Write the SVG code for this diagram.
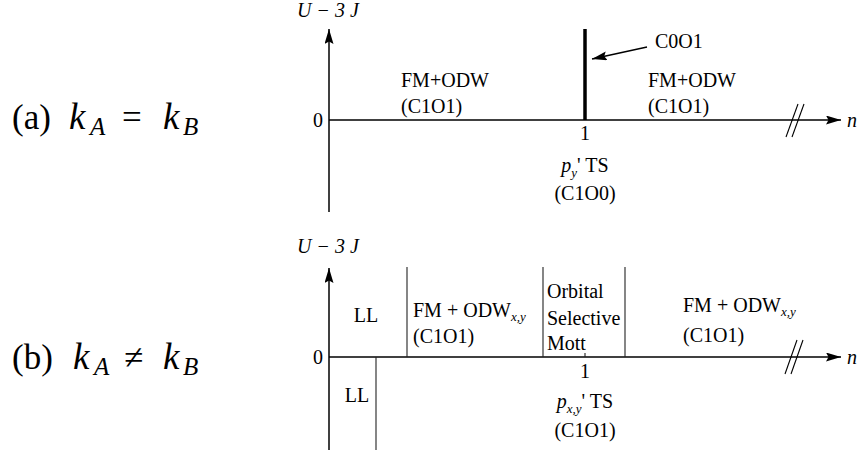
<svg xmlns="http://www.w3.org/2000/svg" width="863" height="455" viewBox="0 0 863 455">
<style>
.t,.m,.sub,.big,.bigi,.bsub{font-family:'Liberation Serif',serif;fill:#000}
.t{font-size:20px}
.m{font-size:20px;font-style:italic}
.sub{font-size:13px;font-style:italic}
.big{font-size:35px}
.bigi{font-size:37px;font-style:italic}
.bsub{font-size:25px;font-style:italic}
.ax{stroke:#000;stroke-width:1.5;fill:none}
.ph{stroke:#222;stroke-width:1.1;fill:none}
.br{stroke:#000;stroke-width:1.1;fill:none}
</style>
<defs>
<marker id="ah" markerUnits="userSpaceOnUse" markerWidth="16" markerHeight="10" refX="15" refY="4.5" orient="auto">
<path d="M0,0 L15,4.5 L0,9 L2.5,4.5 z" fill="#000"/>
</marker>
</defs>
<rect width="863" height="455" fill="#fff"/>

<g id="labels-left">
<text class="big" x="12" y="129">(a)</text>
<text class="bigi" x="69" y="129">k</text>
<text class="bsub" x="90" y="135">A</text>
<text class="big" x="122" y="129">=</text>
<text class="bigi" x="163" y="129">k</text>
<text class="bsub" x="183" y="135">B</text>
<text class="big" x="12" y="369">(b)</text>
<text class="bigi" x="73" y="369">k</text>
<text class="bsub" x="94" y="375">A</text>
<text class="big" x="124" y="369">≠</text>
<text class="bigi" x="163" y="369">k</text>
<text class="bsub" x="183" y="375">B</text>
</g>

<g id="connectors">
<line class="ax" x1="329" y1="212" x2="329" y2="29" marker-end="url(#ah)"/>
<line class="ax" x1="329" y1="120" x2="841" y2="120" marker-end="url(#ah)"/>
<line x1="585" y1="29" x2="585" y2="120" stroke="#000" stroke-width="3.5"/>
<line x1="647" y1="47" x2="592" y2="59" stroke="#000" stroke-width="1.3" marker-end="url(#ah)"/>
<line class="br" x1="798" y1="104" x2="786" y2="137"/>
<line class="br" x1="804" y1="104" x2="792" y2="137"/>
<line class="ax" x1="329" y1="450" x2="329" y2="268" stroke-width="1.3" marker-end="url(#ah)"/>
<line class="ax" x1="329" y1="357" x2="841" y2="357" stroke-width="1.3" marker-end="url(#ah)"/>
<line class="ph" x1="407" y1="267" x2="407" y2="357"/>
<line class="ph" x1="376" y1="357" x2="376" y2="450"/>
<line class="ph" x1="543" y1="267" x2="543" y2="357"/>
<line class="ph" x1="625" y1="267" x2="625" y2="357"/>
<line class="ph" x1="585" y1="353" x2="585" y2="357"/>
<line class="br" x1="797" y1="340" x2="785" y2="374"/>
<line class="br" x1="803" y1="340" x2="791" y2="374"/>
</g>

<g id="axis-a">
<text class="m" x="297" y="17">U − 3 J</text>
<text class="t" x="313" y="127">0</text>
<text class="m" x="847" y="127">n</text>
<text class="t" x="585" y="140" text-anchor="middle">1</text>
</g>
<g id="node-a-left">
<text class="t" x="401" y="87">FM+ODW</text>
<text class="t" x="401" y="113">(C1O1)</text>
</g>
<g id="node-a-c0o1">
<text class="t" x="655" y="48">C0O1</text>
</g>
<g id="node-a-right">
<text class="t" x="648" y="87">FM+ODW</text>
<text class="t" x="648" y="113">(C1O1)</text>
</g>
<g id="node-a-ts">
<text class="t" x="585" y="172" text-anchor="middle"><tspan class="m">p</tspan><tspan class="sub" dy="5">y</tspan><tspan dy="-5">' TS</tspan></text>
<text class="t" x="585" y="200" text-anchor="middle">(C1O0)</text>
</g>
<g id="axis-b">
<text class="m" x="297" y="253">U − 3 J</text>
<text class="t" x="313" y="364">0</text>
<text class="m" x="847" y="364">n</text>
<text class="t" x="585" y="378" text-anchor="middle">1</text>
</g>
<g id="node-b-ll-up">
<text class="t" x="366" y="322" text-anchor="middle">LL</text>
</g>
<g id="node-b-ll-down">
<text class="t" x="357" y="402" text-anchor="middle">LL</text>
</g>
<g id="node-b-fm-left">
<text class="t" x="413" y="317">FM + ODW<tspan class="sub" dy="4">x,y</tspan></text>
<text class="t" x="413" y="343">(C1O1)</text>
</g>
<g id="node-b-osm">
<text class="t" x="547" y="298">Orbital</text>
<text class="t" x="547" y="325">Selective</text>
<text class="t" x="547" y="350">Mott</text>
</g>
<g id="node-b-fm-right">
<text class="t" x="683" y="312">FM + ODW<tspan class="sub" dy="4">x,y</tspan></text>
<text class="t" x="683" y="342">(C1O1)</text>
</g>
<g id="node-b-ts">
<text class="t" x="585" y="408" text-anchor="middle"><tspan class="m">p</tspan><tspan class="sub" dy="5">x,y</tspan><tspan dy="-5">' TS</tspan></text>
<text class="t" x="585" y="437" text-anchor="middle">(C1O1)</text>
</g>
</svg>
